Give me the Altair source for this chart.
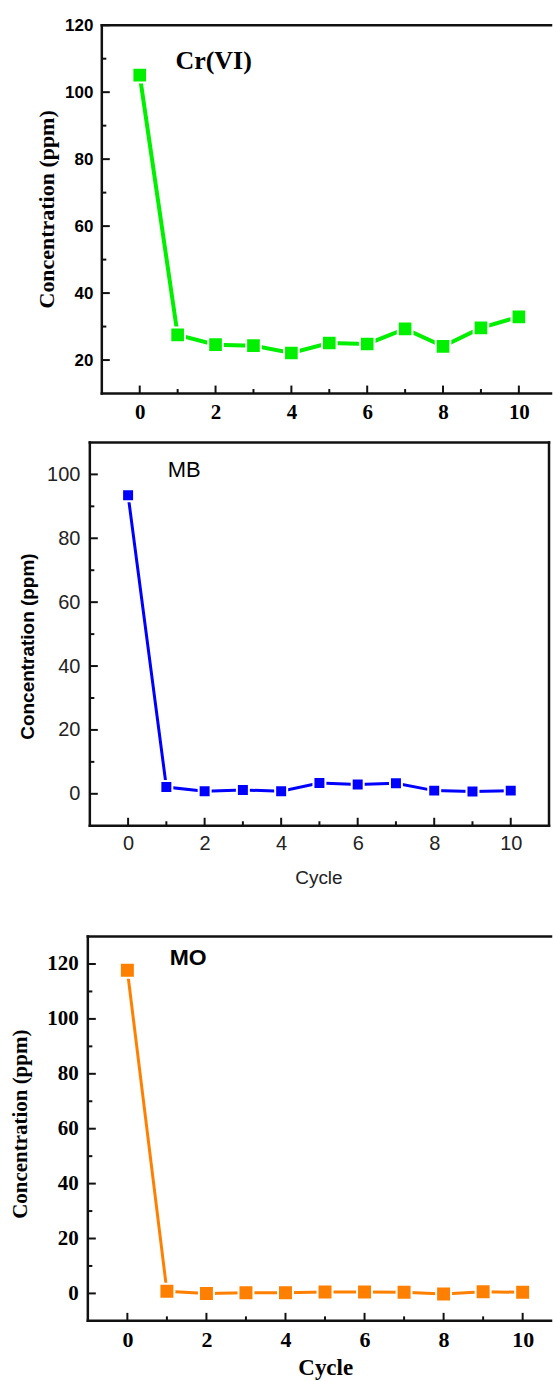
import altair as alt
import pandas as pd

# ---- data ----
cycles = [0, 1, 2, 3, 4, 5, 6, 7, 8, 9, 10]
cr_vi = [105.1, 27.5, 24.6, 24.3, 22.1, 25.1, 24.8, 29.3, 24.1, 29.6, 32.9]
mb = [93.5, 2.1, 0.8, 1.2, 0.8, 3.4, 2.9, 3.3, 1.0, 0.7, 1.0]
mo = [117.7, 0.8, 0.0, 0.2, 0.2, 0.5, 0.5, 0.4, -0.2, 0.6, 0.4]

x_major = [0, 2, 4, 6, 8, 10]
x_minor = [1, 3, 5, 7, 9]
cr_major = [20, 40, 60, 80, 100, 120]
cr_minor = [30, 50, 70, 90, 110]
mb_major = [0, 20, 40, 60, 80, 100]
mb_minor = [10, 30, 50, 70, 90]
mo_major = [0, 20, 40, 60, 80, 100, 120]
mo_minor = [10, 30, 50, 70, 90, 110]

SERIF = "Liberation Serif"
SANS = "Liberation Sans"
FRAME = "#111111"
Y_TITLE = "Concentration (ppm)"


def panel(values, color, ymaj, ymin, c):
    W, H, L = c["W"], c["H"], c["L"]
    xs = alt.Scale(domain=c["xdom"], nice=False, zero=False)
    ys = alt.Scale(domain=c["ydom"], nice=False, zero=False)
    df = pd.DataFrame({"Cycle": cycles, "Conc": values})
    one = pd.DataFrame({"k": [0]})

    xaxis_kw = dict(
        values=x_major, ticks=False, tickSize=0, domain=False, grid=False,
        labelFont=c["xl_font"], labelFontSize=c["xl_size"], labelFontWeight=c["xl_weight"],
        labelColor=c["lab_color"], labelPadding=c["xl_pad"], labelBaseline="middle",
        labelFlush=False, labelOverlap=False, format="d",
    )
    if c.get("xtitle"):
        xaxis_kw.update(
            title=c["xtitle"], titleFont=c["xt_font"], titleFontSize=c["xt_size"],
            titleFontWeight=c["xt_weight"], titleColor=c["lab_color"], titleX=c["xt_x"],
            titleY=c["xt_y"], titleBaseline="middle", titleAlign="center", titleAngle=0,
        )
        xenc = alt.X("Cycle:Q", scale=xs, axis=alt.Axis(**xaxis_kw))
    else:
        xenc = alt.X("Cycle:Q", scale=xs, title=None, axis=alt.Axis(**xaxis_kw))

    yaxis = alt.Axis(
        values=ymaj, ticks=False, tickSize=0, domain=False, grid=False, offset=-L,
        labelFont=c["yl_font"], labelFontSize=c["yl_size"], labelFontWeight=c["yl_weight"],
        labelColor=c["lab_color"], labelPadding=c["yl_pad"], labelFlush=False,
        labelOverlap=False, format="d",
        title=Y_TITLE, titleFont=c["yt_font"], titleFontSize=c["yt_size"],
        titleFontWeight="bold", titleColor="black", titleAngle=270, titleAlign="center",
        titleBaseline="middle", titleX=c["yt_x"], titleY=c["yt_y"],
    )

    layers = []
    # data line first: it carries the axis definitions
    layers.append(alt.Chart(df).mark_line(color=color, strokeWidth=c["lw"]).encode(
        x=xenc, y=alt.Y("Conc:Q", scale=ys, axis=yaxis)))

    fw = 2.5
    layers.append(alt.Chart(one).mark_rule(color=FRAME, strokeWidth=fw, strokeCap="square").encode(
        x=alt.value(L), x2=alt.value(W), y=alt.value(H)))
    layers.append(alt.Chart(one).mark_rule(color=FRAME, strokeWidth=fw, strokeCap="square").encode(
        x=alt.value(L), x2=alt.value(W), y=alt.value(0)))
    layers.append(alt.Chart(one).mark_rule(color=FRAME, strokeWidth=fw, strokeCap="square").encode(
        x=alt.value(L), y=alt.value(0), y2=alt.value(H)))
    if c.get("right"):
        layers.append(alt.Chart(one).mark_rule(color=FRAME, strokeWidth=fw, strokeCap="square").encode(
            x=alt.value(W), y=alt.value(0), y2=alt.value(H)))

    for vals, ln in ((x_major, 8), (x_minor, 4.5)):
        layers.append(alt.Chart(pd.DataFrame({"Cycle": vals})).mark_rule(color=FRAME, strokeWidth=2).encode(
            x=alt.X("Cycle:Q", scale=xs), y=alt.value(H), y2=alt.value(H - ln)))
    for vals, ln in ((ymaj, 8), (ymin, 4.5)):
        layers.append(alt.Chart(pd.DataFrame({"Conc": vals})).mark_rule(color=FRAME, strokeWidth=2).encode(
            y=alt.Y("Conc:Q", scale=ys), x=alt.value(L), x2=alt.value(L + ln)))

    layers.append(alt.Chart(df).mark_point(
        shape="square", filled=True, fill=color, stroke="white", strokeWidth=2,
        size=c["ms"], opacity=1, fillOpacity=1, strokeOpacity=1).encode(
        x=alt.X("Cycle:Q", scale=xs), y=alt.Y("Conc:Q", scale=ys)))
    layers.append(alt.Chart(one).mark_text(
        text=c["label"], font=c["lab_font"], fontSize=c["lab_size"], fontWeight=c["lab_weight"],
        color="black", align="center", baseline="middle").encode(
        x=alt.value(c["lab_x"]), y=alt.value(c["lab_y"])))

    return alt.layer(*layers).properties(width=W, height=H)


p1 = panel(cr_vi, "#00f000", cr_major, cr_minor, dict(
    W=464, H=369, L=14, xdom=[-1.3686, 10.848], ydom=[10, 120],
    xl_font=SERIF, xl_size=21, xl_weight="bold", xl_pad=19,
    yl_font=SANS, yl_size=17, yl_weight="bold", yl_pad=9,
    lab_color="black",
    yt_font=SERIF, yt_size=22, yt_x=-55, yt_y=184,
    lw=4, ms=215,
    label="Cr(VI)", lab_font=SERIF, lab_size=26, lab_weight="bold", lab_x=126, lab_y=36,
))

p2 = panel(mb, "#0000ff", mb_major, mb_minor, dict(
    W=462, H=384, L=2, xdom=[-1.052, 11], ydom=[-10, 110], right=True,
    xl_font=SANS, xl_size=20, xl_weight="normal", xl_pad=18,
    yl_font=SANS, yl_size=20, yl_weight="normal", yl_pad=10,
    lab_color="#222222",
    yt_font=SANS, yt_size=19, yt_x=-62.6, yt_y=204,
    xtitle="Cycle", xt_font=SANS, xt_size=19, xt_weight="normal", xt_x=231, xt_y=51.5,
    lw=3, ms=144,
    label="MB", lab_font=SANS, lab_size=22, lab_weight="normal", lab_x=96.5, lab_y=28,
))

p3 = panel(mo, "#ff8000", mo_major, mo_minor, dict(
    W=464, H=385, L=0, xdom=[-1, 10.717], ydom=[-10, 130],
    xl_font=SERIF, xl_size=22, xl_weight="bold", xl_pad=19,
    yl_font=SERIF, yl_size=21, yl_weight="bold", yl_pad=9.7,
    lab_color="black",
    yt_font=SERIF, yt_size=21, yt_x=-67.6, yt_y=187.5,
    xtitle="Cycle", xt_font=SERIF, xt_size=23, xt_weight="bold", xt_x=237.8, xt_y=47,
    lw=3, ms=225,
    label="MO", lab_font=SANS, lab_size=23, lab_weight="bold", lab_x=100.5, lab_y=21.5,
))

upper = alt.vconcat(p1, p2, spacing=18)
chart = alt.vconcat(upper, p3, spacing=47).properties(
    padding={"left": 9, "top": 15, "right": 0, "bottom": 0}
).configure_view(stroke=None)

chart.save("out.html", embed_options={"renderer": "svg", "actions": False})
